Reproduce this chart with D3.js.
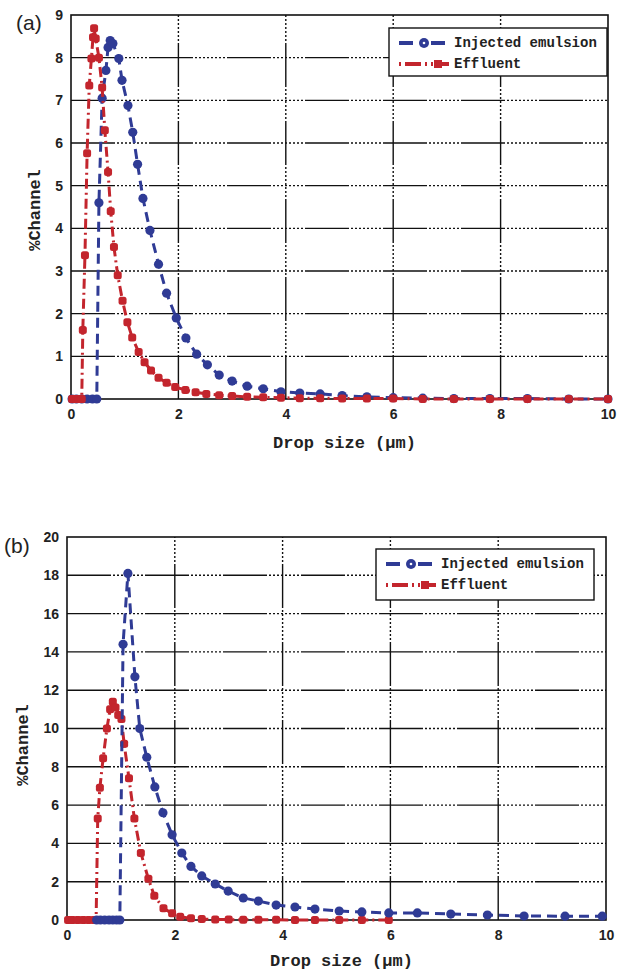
<!DOCTYPE html>
<html>
<head>
<meta charset="utf-8">
<script src="https://d3js.org/d3.v7.min.js"></script>
<title>Drop size distributions</title>
<style>
body { margin: 0; background: #fff; }
svg { display: block; }
.tick-label { font-family: "Liberation Sans", Arial, sans-serif; font-weight: bold; font-size: 14px; fill: #222; }
.axis-label { font-family: "Liberation Mono", "Courier New", monospace; font-weight: bold; font-size: 17px; fill: #222; }
.legend-text { font-family: "Liberation Mono", "Courier New", monospace; font-weight: bold; font-size: 14px; fill: #222; }
.panel-label { font-family: "Liberation Sans", Arial, sans-serif; font-size: 21px; fill: #222; }
</style>
</head>
<body>
<svg id="svg" width="619" height="973"></svg>
<script>

// panel (a) data
let injA_x = [0.02, 0.1, 0.2, 0.3, 0.4, 0.48, 0.52, 0.58, 0.65, 0.69, 0.73, 0.78, 0.89, 0.95, 1.06, 1.15, 1.24, 1.34, 1.47, 1.63, 1.78, 1.96, 2.14, 2.34, 2.54, 2.76, 3.0, 3.28, 3.58, 3.91, 4.26, 4.64, 5.05, 5.51, 6.0, 6.55, 7.13, 7.8, 8.5, 9.27, 10.0];
let injA_y = [0, 0, 0, 0, 0, 0, 4.6, 7.05, 7.7, 8.24, 8.4, 8.33, 7.98, 7.47, 6.88, 6.25, 5.5, 4.7, 3.95, 3.16, 2.48, 1.9, 1.43, 1.05, 0.8, 0.56, 0.42, 0.3, 0.24, 0.17, 0.14, 0.12, 0.08, 0.05, 0.03, 0.02, 0.01, 0.01, 0.01, 0, 0];
let effA_x = [0.02, 0.06, 0.1, 0.14, 0.18, 0.2, 0.22, 0.26, 0.3, 0.34, 0.38, 0.41, 0.43, 0.46, 0.52, 0.58, 0.63, 0.69, 0.74, 0.8, 0.87, 0.96, 1.05, 1.14, 1.26, 1.37, 1.49, 1.63, 1.78, 1.94, 2.13, 2.32, 2.52, 2.76, 3.0, 3.28, 3.58, 3.91, 4.26, 4.64, 5.05, 5.51, 6.0, 6.55, 7.13, 7.8, 8.5, 9.27, 10.0];
let effA_y = [0, 0, 0, 0, 0, 0, 1.62, 3.37, 5.76, 7.35, 7.98, 8.48, 8.69, 8.45, 8.0, 7.3, 6.3, 5.32, 4.4, 3.56, 2.9, 2.3, 1.8, 1.44, 1.1, 0.86, 0.67, 0.5, 0.38, 0.28, 0.21, 0.16, 0.12, 0.09, 0.07, 0.05, 0.04, 0.03, 0.02, 0.02, 0.01, 0.01, 0.01, 0, 0, 0, 0, 0, 0];

// panel (b) data
let injB_x = [0.55, 0.62, 0.7, 0.78, 0.85, 0.92, 0.98, 1.04, 1.13, 1.26, 1.35, 1.48, 1.63, 1.78, 1.95, 2.13, 2.3, 2.5, 2.75, 2.99, 3.27, 3.55, 3.88, 4.23, 4.6, 5.05, 5.47, 5.97, 6.5, 7.12, 7.8, 8.48, 9.24, 9.93];
let injB_y = [0, 0, 0, 0, 0, 0, 0, 14.4, 18.1, 12.7, 10.0, 8.5, 6.95, 5.6, 4.45, 3.5, 2.8, 2.3, 1.88, 1.51, 1.15, 0.99, 0.78, 0.68, 0.57, 0.47, 0.42, 0.37, 0.37, 0.31, 0.26, 0.21, 0.2, 0.2];
let effB_x = [0.02, 0.1, 0.2, 0.3, 0.4, 0.5, 0.54, 0.57, 0.61, 0.67, 0.74, 0.8, 0.85, 0.9, 0.95, 1.01, 1.06, 1.15, 1.25, 1.37, 1.51, 1.62, 1.79, 1.95, 2.1, 2.3, 2.5, 2.75, 3.0, 3.27, 3.55, 3.88, 4.23, 4.6, 5.05, 5.47, 5.97];
let effB_y = [0, 0, 0, 0, 0, 0, 0, 5.3, 6.9, 8.45, 10.0, 11.0, 11.4, 11.1, 10.7, 10.5, 9.2, 7.4, 5.3, 3.5, 2.15, 1.26, 0.61, 0.35, 0.17, 0.09, 0.05, 0.03, 0.02, 0.01, 0.01, 0.01, 0, 0, 0, 0, 0];

let xTicks = [0, 2, 4, 6, 8, 10];
let yTicksA = [0, 1, 2, 3, 4, 5, 6, 7, 8, 9];
let yTicksB = [0, 2, 4, 6, 8, 10, 12, 14, 16, 18, 20];

let seriesNames = ["Injected emulsion", "Effluent"];

let blue = "#2f3b95";
let red = "#c3252d";
let gridDash = "44,2,2,2,2,2,2,2,2,2,2,2,2,2,2,2,2,2";

function zip(xs, ys) {
  return xs.map(function(x, i) { return {x: x, y: ys[i]}; });
}

function drawPanel(p) {
  let svg = d3.select("svg");
  let g = svg.append("g");

  let x = d3.scaleLinear().domain([0, 10]).range([p.left, p.right]);
  let y = d3.scaleLinear().domain([0, p.ymax]).range([p.bottom, p.top]);

  // grid
  g.selectAll(".hgrid").data(p.yTicks.slice(1, -1)).enter().append("line")
    .attr("x1", p.left).attr("x2", p.right)
    .attr("y1", function(d) { return y(d); }).attr("y2", function(d) { return y(d); })
    .attr("stroke", "#111").attr("stroke-width", 1.4)
    .attr("stroke-dasharray", gridDash);
  g.selectAll(".vgrid").data(xTicks.slice(1, -1)).enter().append("line")
    .attr("y1", p.bottom).attr("y2", p.top)
    .attr("x1", function(d) { return x(d); }).attr("x2", function(d) { return x(d); })
    .attr("stroke", "#111").attr("stroke-width", 1.4)
    .attr("stroke-dasharray", gridDash);

  // tick labels via d3 axes, lines hidden
  let xAxis = g.append("g").attr("transform", "translate(0," + p.bottom + ")")
    .call(d3.axisBottom(x).tickValues(xTicks).tickSize(0).tickPadding(10).tickFormat(d3.format("d")));
  let yAxis = g.append("g").attr("transform", "translate(" + p.left + ",0)")
    .call(d3.axisLeft(y).tickValues(p.yTicks).tickSize(0).tickPadding(8).tickFormat(d3.format("d")));
  [xAxis, yAxis].forEach(function(a) {
    a.select(".domain").remove();
    a.selectAll("text").attr("class", "tick-label").attr("fill", null);
  });

  // frame
  g.append("rect")
    .attr("x", p.left).attr("y", p.top)
    .attr("width", p.right - p.left).attr("height", p.bottom - p.top)
    .attr("fill", "none").attr("stroke", "#111").attr("stroke-width", 1.6);

  let line = d3.line().x(function(d) { return x(d.x); }).y(function(d) { return y(d.y); });

  p.order.forEach(function(k) {
    let s = p.series[k];
    let data = zip(s.xs, s.ys);
    g.append("path").datum(data)
      .attr("d", line)
      .attr("fill", "none")
      .attr("stroke", s.color)
      .attr("stroke-width", 3)
      .attr("stroke-dasharray", s.dash);
    if (s.marker == "circle") {
      g.selectAll(".m" + k).data(data).enter().append("circle")
        .attr("cx", function(d) { return x(d.x); })
        .attr("cy", function(d) { return y(d.y); })
        .attr("r", 4.6).attr("fill", s.color);
    } else {
      g.selectAll(".m" + k).data(data).enter().append("rect")
        .attr("x", function(d) { return x(d.x) - 4; })
        .attr("y", function(d) { return y(d.y) - 4; })
        .attr("width", 8).attr("height", 8).attr("rx", 2.5)
        .attr("fill", s.color);
    }
  });

  // legend
  let L = p.legend;
  g.append("rect").attr("x", L.x).attr("y", L.y).attr("width", L.w).attr("height", L.h)
    .attr("fill", "#fff").attr("stroke", "#111").attr("stroke-width", 1.4);
  ["inj", "eff"].forEach(function(k, i) {
    let s = p.series[k];
    let ly = L.y + 15 + i * 21;
    g.append("line").attr("x1", L.x + 10).attr("x2", L.x + 60)
      .attr("y1", ly).attr("y2", ly)
      .attr("stroke", s.color).attr("stroke-width", 4)
      .attr("stroke-dasharray", k == "inj" ? "14,7,4,7,14" : "2,4,16,4,2,4");
    if (k == "inj") {
      g.append("circle").attr("cx", L.x + 35).attr("cy", ly).attr("r", 5).attr("fill", s.color);
      g.append("circle").attr("cx", L.x + 35).attr("cy", ly).attr("r", 1.3).attr("fill", "#fff");
    } else {
      g.append("rect").attr("x", L.x + 45).attr("y", ly - 4).attr("width", 8).attr("height", 8).attr("fill", s.color);
    }
    g.append("text").attr("class", "legend-text")
      .attr("x", L.x + 65).attr("y", ly + 4).text(seriesNames[i]);
  });

  // axis titles
  g.append("text").attr("class", "axis-label")
    .attr("x", (p.left + p.right) / 2 + 5).attr("y", p.xlabelY)
    .attr("text-anchor", "middle").text("Drop size (\u03bcm)");
  g.append("text").attr("class", "axis-label")
    .attr("transform", "translate(" + p.ylabelX + "," + p.ylabelCy + ") rotate(-90)")
    .attr("text-anchor", "middle").text("%Channel");

  g.append("text").attr("class", "panel-label")
    .attr("x", p.tagX).attr("y", p.tagY).text(p.tag);
}

drawPanel({
  left: 71, right: 608, top: 15, bottom: 399, ymax: 9, yTicks: yTicksA,
  series: {
    inj: {xs: injA_x, ys: injA_y, color: blue, dash: "10,6", marker: "circle"},
    eff: {xs: effA_x, ys: effA_y, color: red, dash: "10,4,2,4", marker: "square"}
  },
  order: ["inj", "eff"],
  legend: {x: 389, y: 28, w: 218, h: 48},
  xlabelY: 448, ylabelX: 40, ylabelCy: 210,
  tag: "(a)", tagX: 16, tagY: 30
});

drawPanel({
  left: 67, right: 606, top: 537, bottom: 920, ymax: 20, yTicks: yTicksB,
  series: {
    inj: {xs: injB_x, ys: injB_y, color: blue, dash: "10,6", marker: "circle"},
    eff: {xs: effB_x, ys: effB_y, color: red, dash: "10,4,2,4", marker: "square"}
  },
  order: ["eff", "inj"],
  legend: {x: 376, y: 549, w: 218, h: 51},
  xlabelY: 966, ylabelX: 28, ylabelCy: 745,
  tag: "(b)", tagX: 4, tagY: 553
});

</script>
</body>
</html>
